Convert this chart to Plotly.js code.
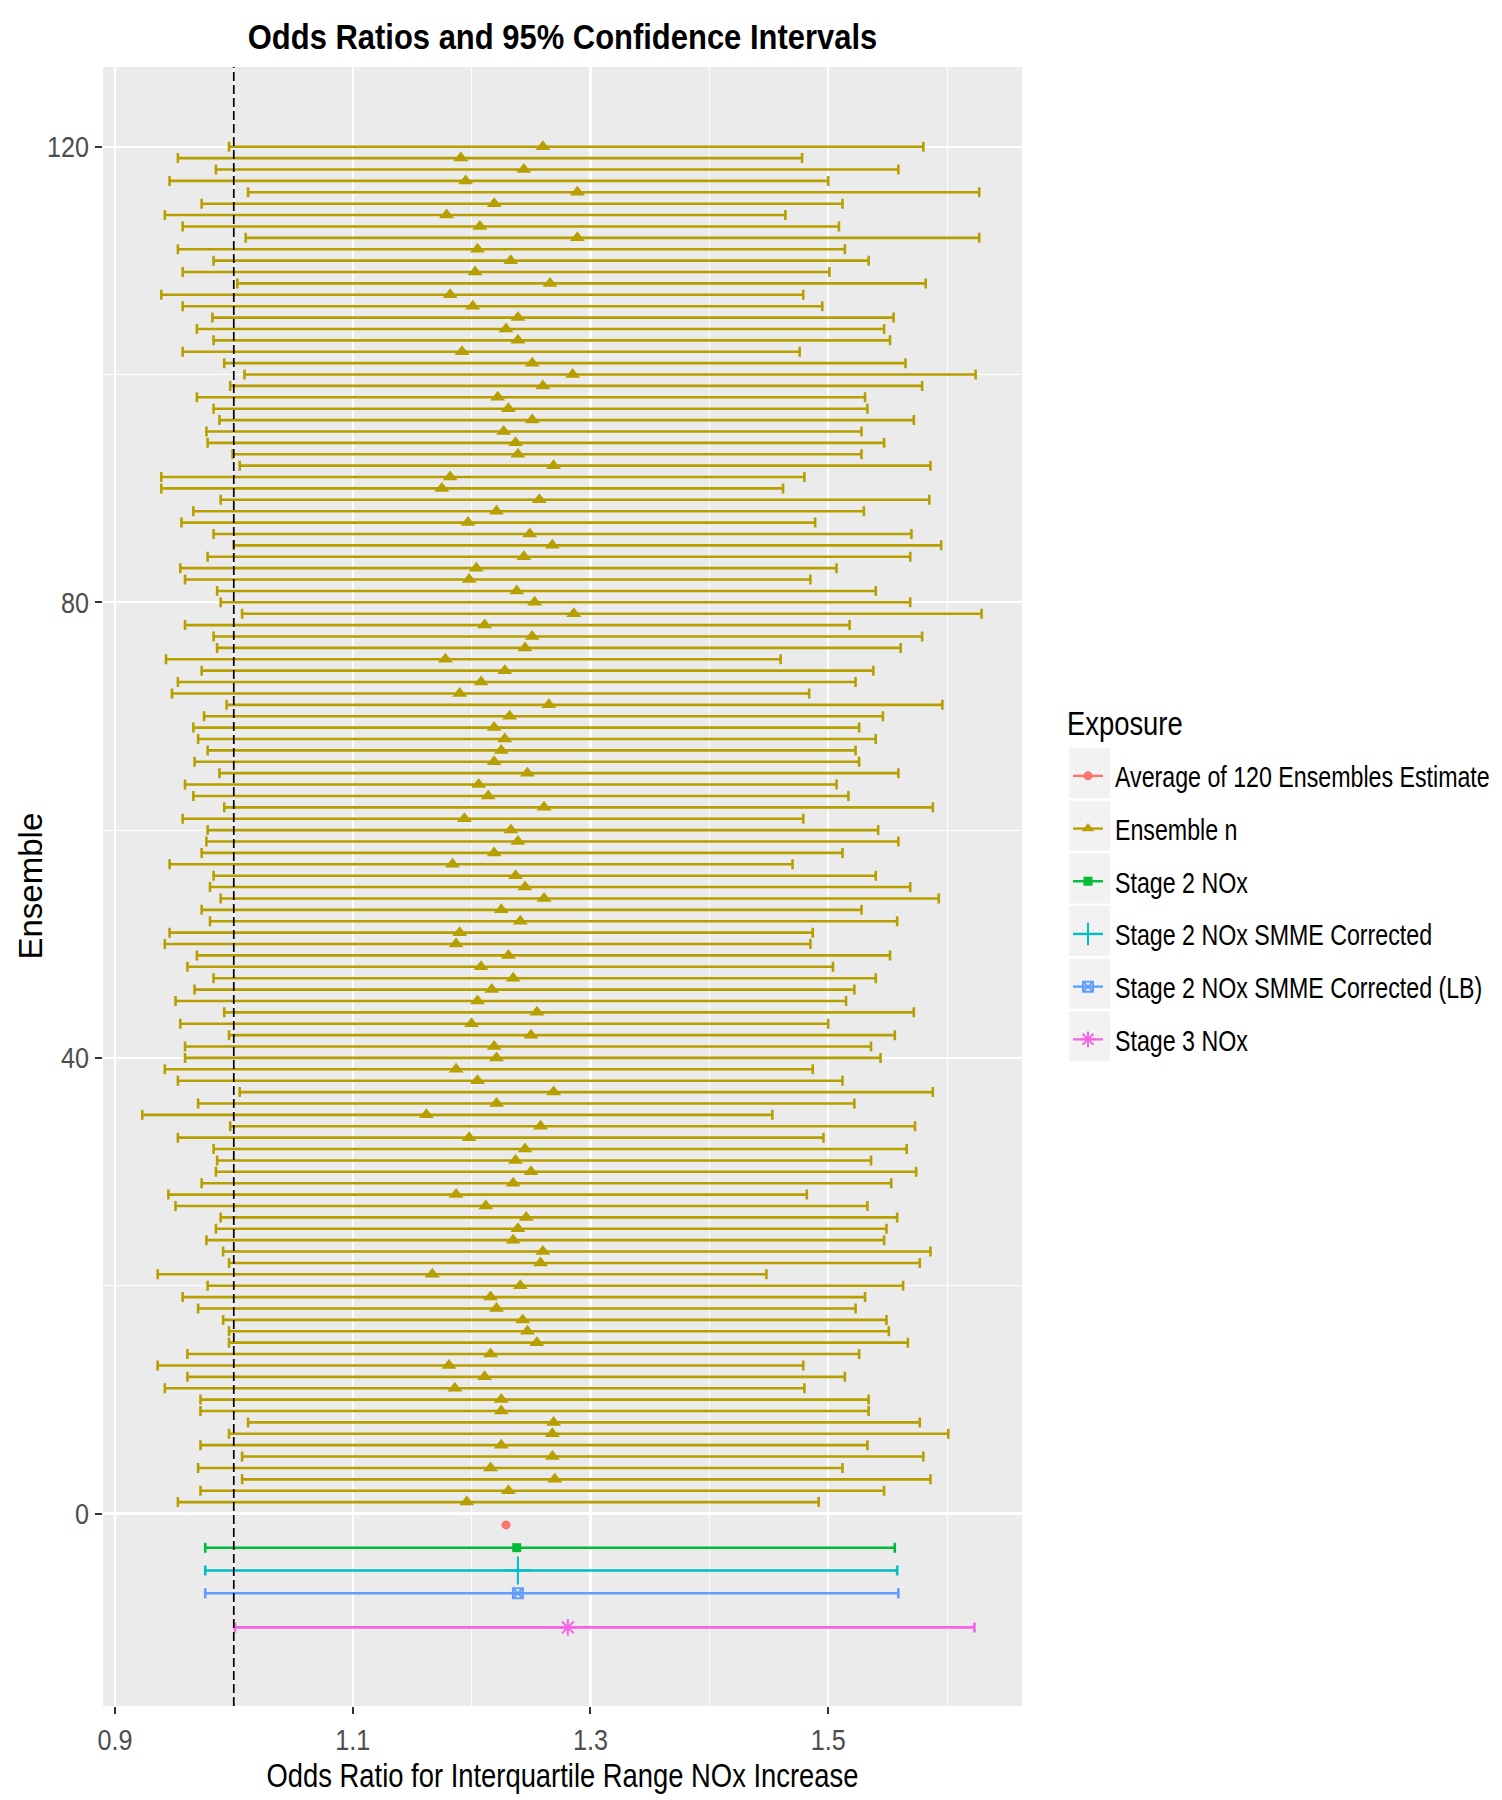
<!DOCTYPE html>
<html><head><meta charset="utf-8">
<script src="https://cdn.plot.ly/plotly-3.0.1.min.js"></script>
<style>html,body{margin:0;padding:0;background:#fff}#chart{width:1502px;height:1800px}</style>
</head><body><div id="chart"></div>
<script>
// ---------- DATA ----------
const ensembleId = [1,2,3,4,5,6,7,8,9,10,11,12,13,14,15,16,17,18,19,20,
  21,22,23,24,25,26,27,28,29,30,31,32,33,34,35,36,37,38,39,40,
  41,42,43,44,45,46,47,48,49,50,51,52,53,54,55,56,57,58,59,60,
  61,62,63,64,65,66,67,68,69,70,71,72,73,74,75,76,77,78,79,80,
  81,82,83,84,85,86,87,88,89,90,91,92,93,94,95,96,97,98,99,100,
  101,102,103,104,105,106,107,108,109,110,111,112,113,114,115,116,117,118,119,120];
const ensembleOR = [1.196,1.231,1.270,1.216,1.268,1.225,1.268,1.269,1.225,1.225,
  1.186,1.211,1.181,1.216,1.255,1.247,1.243,1.221,1.216,1.241,
  1.167,1.258,1.260,1.235,1.239,1.246,1.212,1.187,1.235,1.250,
  1.237,1.245,1.198,1.258,1.162,1.221,1.269,1.205,1.187,1.221,
  1.219,1.250,1.200,1.255,1.205,1.217,1.235,1.208,1.231,1.187,
  1.190,1.241,1.225,1.261,1.245,1.237,1.184,1.219,1.239,1.233,
  1.194,1.261,1.214,1.206,1.247,1.219,1.225,1.228,1.219,1.232,
  1.265,1.190,1.208,1.228,1.178,1.245,1.251,1.211,1.286,1.253,
  1.238,1.198,1.204,1.244,1.268,1.249,1.197,1.221,1.257,1.175,
  1.182,1.269,1.239,1.237,1.227,1.251,1.231,1.222,1.260,1.285,
  1.251,1.192,1.239,1.229,1.239,1.201,1.182,1.266,1.203,1.233,
  1.205,1.289,1.207,1.179,1.219,1.289,1.195,1.244,1.191,1.260];
const ensembleLower = [0.953,0.972,1.007,0.970,1.007,0.972,0.996,1.012,0.972,0.972,
  0.942,0.961,0.936,0.961,0.996,0.996,0.991,0.970,0.957,0.978,
  0.936,0.996,0.991,0.977,0.985,0.989,0.951,0.945,0.973,0.985,
  0.986,0.983,0.953,0.997,0.923,0.970,1.005,0.953,0.942,0.959,
  0.959,0.996,0.955,0.992,0.951,0.967,0.983,0.961,0.969,0.942,
  0.946,0.980,0.973,0.989,0.980,0.983,0.946,0.973,0.977,0.978,
  0.957,0.992,0.966,0.959,0.988,0.967,0.978,0.970,0.966,0.975,
  0.994,0.948,0.953,0.973,0.943,0.986,0.983,0.959,1.007,0.989,
  0.986,0.959,0.955,0.978,1.000,0.983,0.956,0.966,0.989,0.939,
  0.939,1.005,0.999,0.978,0.977,0.988,0.983,0.969,0.997,1.009,
  0.992,0.957,0.983,0.969,0.982,0.957,0.939,1.003,0.957,0.983,
  0.953,1.010,0.957,0.942,0.973,1.012,0.946,0.985,0.953,0.996];
const ensembleUpper = [1.492,1.547,1.586,1.512,1.580,1.533,1.601,1.577,1.534,1.534,
  1.480,1.514,1.479,1.526,1.567,1.551,1.549,1.523,1.531,1.563,
  1.448,1.577,1.586,1.547,1.549,1.558,1.533,1.482,1.553,1.574,
  1.536,1.566,1.496,1.573,1.453,1.522,1.588,1.512,1.487,1.544,
  1.536,1.556,1.500,1.572,1.515,1.522,1.540,1.504,1.552,1.485,
  1.487,1.558,1.528,1.593,1.569,1.540,1.470,1.512,1.559,1.542,
  1.479,1.588,1.517,1.507,1.559,1.526,1.523,1.540,1.526,1.546,
  1.596,1.484,1.523,1.538,1.460,1.561,1.579,1.518,1.629,1.569,
  1.540,1.485,1.507,1.569,1.595,1.570,1.489,1.530,1.585,1.462,
  1.480,1.586,1.528,1.547,1.528,1.572,1.533,1.531,1.579,1.624,
  1.565,1.476,1.552,1.547,1.555,1.495,1.479,1.582,1.501,1.534,
  1.514,1.627,1.509,1.464,1.512,1.627,1.500,1.559,1.478,1.580];

const summaryNames = ["Average of 120 Ensembles Estimate","Stage 2 NOx","Stage 2 NOx SMME Corrected","Stage 2 NOx SMME Corrected (LB)","Stage 3 NOx"];
const summaryY     = [-1, -3, -5, -7, -10];
const summaryOR    = [1.229, 1.238, 1.239, 1.239, 1.281];
const summaryLower = [null, 0.976, 0.976, 0.976, 1.001];
const summaryUpper = [null, 1.556, 1.558, 1.559, 1.623];

const legendNames = ["Average of 120 Ensembles Estimate","Ensemble n","Stage 2 NOx","Stage 2 NOx SMME Corrected","Stage 2 NOx SMME Corrected (LB)","Stage 3 NOx"];
const xTickVals = [0.9, 1.1, 1.3, 1.5];
const xTickText = ["0.9", "1.1", "1.3", "1.5"];
const yTickVals = [0, 40, 80, 120];
const yTickText = ["0", "40", "80", "120"];
const referenceOR = 1;

// ---------- STYLE ----------
const FONT = "'Liberation Sans', Arial, sans-serif";
const colors = ["#F8766D", "#B79F00", "#00BA38", "#00BFC4", "#619CFF", "#F564E3"];
const symbols = ["circle", "triangle-up", "square", "cross-thin-open", "square-x-open", "asterisk-open"];
const plotSizes = [9, 13, 9, 20, 10, 14];
const legSizes = [9, 11, 9, 16, 10, 13];
const BAR_W = 2.6;

function errX(val, lo, hi, color) {
  if (lo == null) return {visible: false};
  return {type: "data", symmetric: false, array: [hi - val], arrayminus: [val - lo],
          color: color, thickness: BAR_W, width: 5};
}

const traces = [];
traces.push({
  type: "scatter", mode: "markers", x: ensembleOR, y: ensembleId, showlegend: false,
  hoverinfo: "skip",
  marker: {symbol: symbols[1], size: plotSizes[1], color: colors[1]},
  error_x: {type: "data", symmetric: false,
    array: ensembleUpper.map((u, i) => u - ensembleOR[i]),
    arrayminus: ensembleLower.map((l, i) => ensembleOR[i] - l),
    color: colors[1], thickness: BAR_W, width: 5}
});
summaryNames.forEach((nm, k) => {
  const ci = k === 0 ? 0 : k + 1;
  const open = symbols[ci].endsWith("open");
  traces.push({
    type: "scatter", mode: "markers", x: [summaryOR[k]], y: [summaryY[k]], showlegend: false,
    hoverinfo: "skip",
    marker: {symbol: symbols[ci], size: plotSizes[ci], color: colors[ci],
             line: {color: colors[ci], width: open ? 2 : 0}},
    error_x: errX(summaryOR[k], summaryLower[k], summaryUpper[k], colors[ci])
  });
});
legendNames.forEach((nm, i) => {
  const open = symbols[i].endsWith("open");
  traces.push({
    type: "scatter", mode: "lines+markers", x: [null], y: [null], name: nm,
    legendgroup: "g" + i, showlegend: true, hoverinfo: "skip",
    line: {color: colors[i], width: 2.4},
    marker: {symbol: symbols[i], size: legSizes[i], color: colors[i],
             line: {color: colors[i], width: open ? 2 : 0}}
  });
});

// ---------- LAYOUT ----------
const L = 103, R = 1022, T = 67, B = 1706;
const px2x = p => (p - L) / (R - L);
const px2y = p => (B - p) / (B - T);

const shapes = [{
  type: "line", xref: "x", yref: "paper", x0: referenceOR, x1: referenceOR, y0: 0, y1: 1,
  line: {color: "#000", width: 1.7, dash: "9px,4px"}, layer: "above"
}];
for (let i = 0; i < 6; i++) {
  const top = 748 + i * 52.7;
  shapes.push({type: "rect", xref: "paper", yref: "paper",
    x0: px2x(1069), x1: px2x(1110), y0: px2y(top + 50), y1: px2y(top),
    fillcolor: "#F2F2F2", line: {width: 0}, layer: "below"});
}

const layout = {
  width: 1502, height: 1800,
  margin: {l: L, r: 1502 - R, t: T, b: 1800 - B, autoexpand: false},
  paper_bgcolor: "#FFFFFF", plot_bgcolor: "#EBEBEB",
  showlegend: true,
  title: {text: "<b>Odds Ratios and 95% Confidence Intervals</b>", x: 0.5, xref: "paper",
          y: 1 - 36 / 1800, yanchor: "middle",
          font: {family: FONT, size: 36, color: "#000"}},
  xaxis: {
    range: [0.890, 1.663], tickvals: xTickVals, ticktext: xTickText,
    showgrid: true, gridcolor: "#FFFFFF", gridwidth: 2.2, zeroline: false, showline: false,
    ticks: "outside", ticklen: 7, tickwidth: 2, tickcolor: "#333333",
    tickfont: {family: FONT, size: 30, color: "#4D4D4D"},
    minor: {tickvals: [1.0, 1.2, 1.4, 1.6], showgrid: true, gridcolor: "#FFFFFF", gridwidth: 1.1, ticks: ""},
    title: {text: "Odds Ratio for Interquartile Range NOx Increase", standoff: 8,
            font: {family: FONT, size: 33, color: "#000"}}
  },
  yaxis: {
    range: [-16.9, 127.0], tickvals: yTickVals, ticktext: yTickText,
    showgrid: true, gridcolor: "#FFFFFF", gridwidth: 2.2, zeroline: false, showline: false,
    ticks: "outside", ticklen: 7, tickwidth: 2, tickcolor: "#333333",
    tickfont: {family: FONT, size: 30, color: "#4D4D4D"},
    minor: {tickvals: [20, 60, 100], showgrid: true, gridcolor: "#FFFFFF", gridwidth: 1.1, ticks: ""}
  },
  annotations: [
    {text: "Ensemble", xref: "paper", yref: "paper", x: px2x(30), y: 0.5, xanchor: "center", yanchor: "middle",
     textangle: -90, showarrow: false, font: {family: FONT, size: 33, color: "#000"}},
    {text: "Exposure", xref: "paper", yref: "paper", x: px2x(1065), y: px2y(723.5), xanchor: "left", yanchor: "middle",
     showarrow: false, font: {family: FONT, size: 33, color: "#000"}}
  ],
  legend: {
    x: px2x(1068), xanchor: "left", y: px2y(750.5), yanchor: "top",
    bgcolor: "rgba(0,0,0,0)", borderwidth: 0,
    font: {family: FONT, size: 29, color: "#000"},
    tracegroupgap: 12, traceorder: "grouped", itemclick: false, itemdoubleclick: false
  },
  shapes: shapes
};

// horizontally condense text (the reference uses a narrow typeface)
function squeeze(gd, selector, s, mode, shift, filter) {
  gd.querySelectorAll(selector).forEach(t => {
    if (filter && !filter(t)) return;
    let bb;
    try { bb = t.getBBox(); } catch (e) { return; }
    const ax = mode === "left" ? bb.x : mode === "right" ? bb.x + bb.width : bb.x + bb.width / 2;
    const tr = t.getAttribute("transform") || "";
    t.setAttribute("transform", tr + " translate(" + (ax + (shift || 0)) + ",0) scale(" + s + ",1) translate(" + (-ax) + ",0)");
  });
}

Plotly.newPlot("chart", traces, layout, {displayModeBar: false, staticPlot: true}).then(gd => {
  squeeze(gd, ".gtitle", 0.86, "center", 0);
  squeeze(gd, ".xtick text", 0.84, "center", 0);
  squeeze(gd, ".ytick text", 0.84, "right", 0);
  squeeze(gd, ".xtitle", 0.83, "center", 0);
  squeeze(gd, ".legendtext", 0.80, "left", 7);
  squeeze(gd, ".annotation-text", 0.83, "left", 0, t => t.textContent === "Exposure");
});
</script>
</body></html>
